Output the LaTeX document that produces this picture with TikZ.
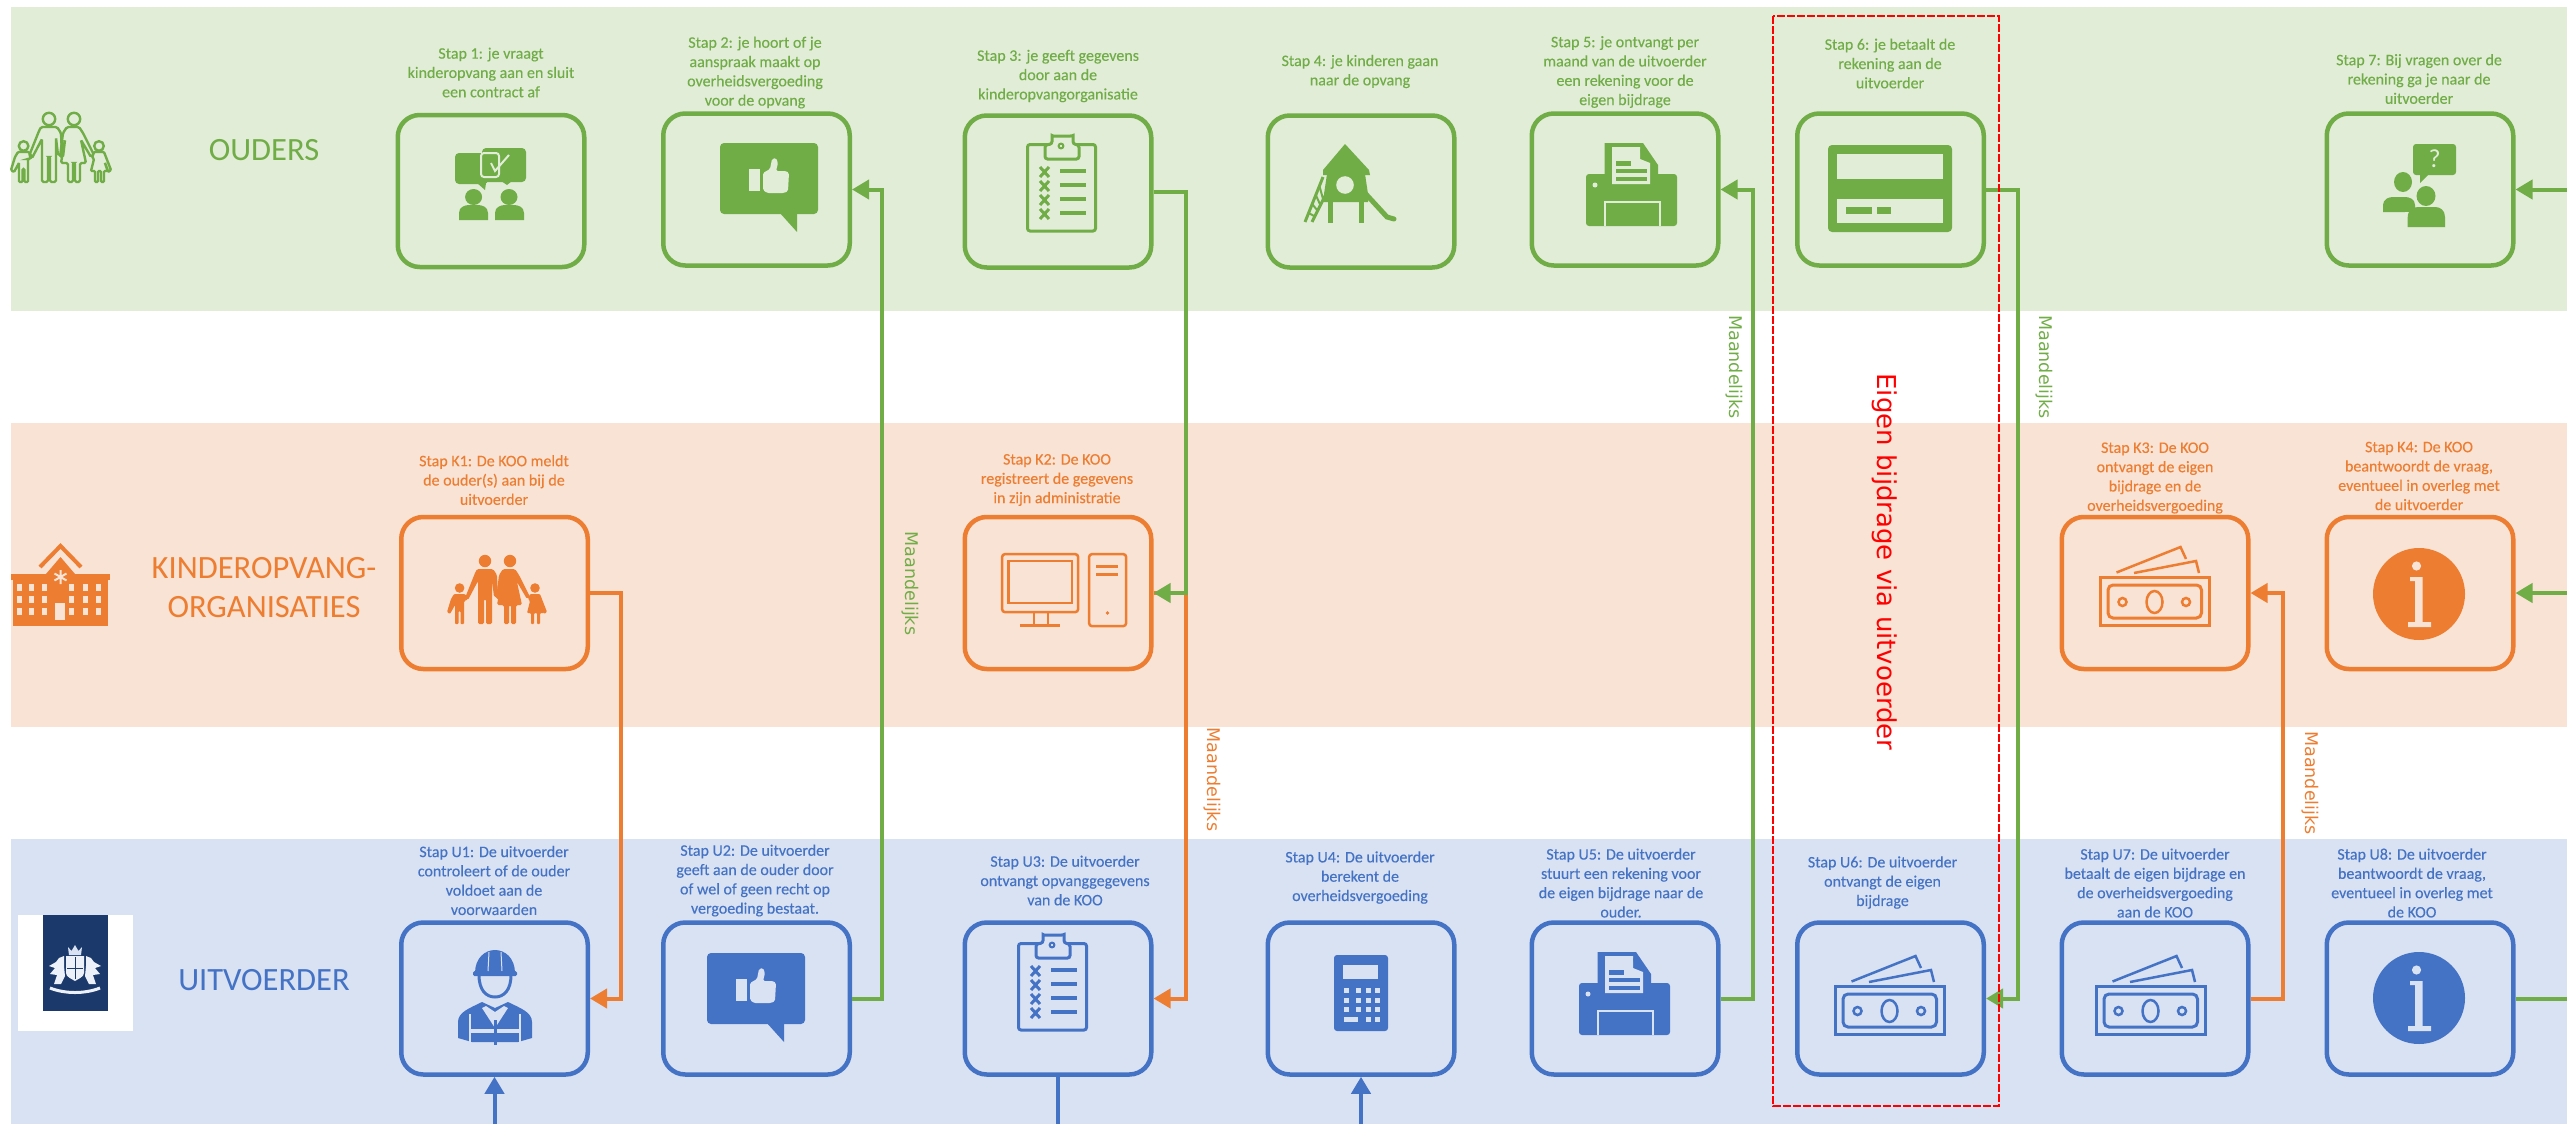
\documentclass[tikz,border=0pt]{standalone}
\usepackage{fontspec}
\usetikzlibrary{arrows.meta,calc}
\newfontfamily\capfont[FakeBold=0.25]{Carlito}
\newfontfamily\titlefont{Carlito}
\newfontfamily\sidefont{DejaVu Sans}
\definecolor{cg}{HTML}{70AD47}
\definecolor{cgl}{HTML}{E2EDD8}
\definecolor{co}{HTML}{ED7D31}
\definecolor{col}{HTML}{F9E3D5}
\definecolor{cb}{HTML}{4472C4}
\definecolor{cbl}{HTML}{D9E2F3}
\definecolor{cn}{HTML}{1B3A6B}
\tikzset{
  stepbox/.style={draw=#1,line width=4.5pt,minimum width=186.5pt,minimum height=152pt,rounded corners=22pt,inner sep=0pt,outer sep=2.25pt},
  stepcap/.style={text=#1,font=\capfont\fontsize{16}{19.3}\selectfont,align=center,inner sep=0pt},
  rowtitle/.style={text=#1,font=\titlefont\fontsize{32.5}{39}\selectfont,align=center,inner sep=0pt},
  monthly/.style={text=#1,font=\sidefont\fontsize{17.5}{20}\selectfont,rotate=-90,inner sep=0pt},
  conn/.style={draw=#1,line width=4pt,line join=miter},
  tip/.style={-{Triangle[length=17pt,width=19pt]}}
}
% ---- icons: origin = top-left corner of the icon, y down, px units
\newcommand\icFamily[3]{\begin{scope}[shift={(#1,#2)}]
  \path[#3] (38,6) circle (6.2);
  \path[#3] (63,6) circle (6.2);
  \path[#3] (12.6,33) circle (4.8);
  \path[#3] (88,33) circle (4.8);
  \path[#3,rounded corners=1.5pt] (30,14)--(46,14)--(50,20)--(51,42)--(47,42)--(45,25)--(45,69)--(39,69)--(39,44)--(37,44)--(37,69)--(31,69)--(31,26)--(21,45)--(18,43)--(28,18)--cycle;
  \path[#3,rounded corners=1.5pt] (56,14)--(68,14)--(72,20)--(83,42)--(80,44)--(70,27)--(75,50)--(69,50)--(69,69)--(64,69)--(64,50)--(62,50)--(62,69)--(57,69)--(57,50)--(50,50)--(54,27)--(52,44)--(49,44)--(52,20)--cycle;
  \path[#3,rounded corners=1pt] (7,39)--(18,39)--(21,44)--(18,46)--(17,46)--(17,69)--(13.5,69)--(13.5,56)--(11.5,56)--(11.5,69)--(8,69)--(8,50)--(3,59)--(0,57)--(4,44)--cycle;
  \path[#3,rounded corners=1pt] (83,39)--(93,39)--(100,57)--(97,59)--(94,50)--(97,58)--(93,58)--(93,69)--(90,69)--(90,58)--(87,58)--(87,69)--(84,69)--(84,58)--(80,58)--(83,46)--(81,44)--cycle;
\end{scope}}
\newcommand\icBuilding[4]{\begin{scope}[shift={(#1,#2)}]
  \draw[#3,line width=4pt] (29,24)--(49.5,3)--(70,24);
  \fill[#3] (35,31)--(49.5,14)--(64,31)--cycle;
  \fill[#3] (0,31) rectangle (99,37);
  \fill[#3] (2,37) rectangle (97,83);
  \foreach \xx in {8,20,33,60,74,87}{\foreach \yy in {41,53,65}{\fill[#4] (\xx-2.5,\yy) rectangle (\xx+3,\yy+7);}}
  \fill[#4] (44,60) rectangle (54,77);
  \draw[#4,line width=2pt] (49.5,27)--(49.5,41) (43.5,30.5)--(55.5,37.5) (43.5,37.5)--(55.5,30.5);
\end{scope}}
\newcommand\icBust[4]{\fill[#4] (#1,#3)--(#1,#3-7) .. controls (#1,#3-13) and (#1+6,#3-15) .. (#1+10,#3-15) -- (#2-10,#3-15) .. controls (#2-6,#3-15) and (#2,#3-13) .. (#2,#3-7) -- (#2,#3) -- cycle;}
\newcommand\icTalk[4]{\begin{scope}[shift={(#1,#2)}]
  \fill[#3,rounded corners=4pt] (0,6) rectangle (33,37);
  \fill[#3] (22,36)--(30,43)--(31,36)--cycle;
  \fill[#3,rounded corners=4pt] (27,1) rectangle (71,35);
  \fill[#3] (46,34)--(52,38)--(57,34)--cycle;
  \draw[#4,line width=2pt,rounded corners=3pt] (26,6) rectangle (44,30);
  \draw[#4,line width=2pt] (36,16)--(40,24)--(54,8);
  \fill[#3] (18.6,50) ellipse (8.5 and 8);
  \fill[#3] (54,50) ellipse (8.5 and 8);
  \icBust{4}{33}{73}{#3}
  \icBust{40}{69}{73}{#3}
\end{scope}}
\newcommand\icThumb[4]{\begin{scope}[shift={(#1,#2)}]
  \fill[#3,rounded corners=4pt] (0,0) rectangle (98,71);
  \fill[#3] (59,69)--(77,89)--(77,69)--cycle;
  \fill[#4] (29,26) rectangle (40,48);
  \fill[#4,rounded corners=1.5pt] (43,30)--(50,26)--(52,16)--(56,15)--(58,20)--(56,28)--(66,28)--(69,30)--(68,48)--(64,50)--(47,50)--(43,47)--cycle;
\end{scope}}
\newcommand\icClip[4]{\begin{scope}[shift={(#1,#2)}]
  \draw[#3,line width=3pt,rounded corners=2.5pt] (1.5,9.5) rectangle (69.5,96);
  \draw[#3,line width=3pt,fill=#4,rounded corners=2.5pt] (19,24) -- (19,10) -- (26,9) -- (26,3) .. controls (26,1) and (28,1) .. (30,1) -- (42,1) .. controls (45,1) and (47,1) .. (47,3) -- (47,9) -- (53,10) -- (53,24) -- cycle;
  \draw[#3,line width=2pt] (35,11) circle (2.4);
  \foreach \yy in {37,51,65,79}{
    \draw[#3,line width=3pt] (14,\yy-5)--(23,\yy+5) (23,\yy-5)--(14,\yy+5);
    \draw[#3,line width=3.5pt] (34,\yy-1)--(60,\yy-1);}
\end{scope}}
\newcommand\icPlay[4]{\begin{scope}[shift={(#1,#2)}]
  \fill[#3] (41,0)--(65,26)--(66,31)--(19,31)--(19,26)--cycle;
  \fill[#3] (23,30)--(61,30)--(64,50)--(64,58)--(20,58)--(20,50)--cycle;
  \fill[#4] (41,41) circle (8.8);
  \fill[#3] (24,57) rectangle (29,79);
  \fill[#3] (55,57) rectangle (60,79);
  \draw[#3,line width=3pt] (19,33)--(1,78) (22,50)--(8,78);
  \foreach \t in {0.2,0.4,0.6,0.8}{\draw[#3,line width=2pt] ($(19,33)!\t!(1,78)$)--($(22,50)!\t!(8,78)$);}
  \draw[#3,line width=5pt,line cap=round] (60,48)--(83,73)--(90,75);
\end{scope}}
\newcommand\icPrinter[4]{\begin{scope}[shift={(#1,#2)}]
  \fill[#3,rounded corners=3pt] (0,31) rectangle (91,83);
  \fill[#3] (18.5,0)--(57,0)--(72,22)--(72,42)--(18.5,42)--cycle;
  \fill[#4] (26,4)--(54,4)--(54,16)--(64,20)--(64,41)--(26,41)--cycle;
  \fill[#3] (54,6)--(62,18)--(56,16)--cycle;
  \fill[#3] (30,18) rectangle (45,23);
  \fill[#3] (30,26) rectangle (61,30);
  \fill[#3] (30,33.5) rectangle (61,38);
  \fill[#4] (9,42) circle (2.5);
  \draw[#4,line width=2pt] (18.5,83)--(18.5,59)--(74,59)--(74,83);
\end{scope}}
\newcommand\icCard[4]{\begin{scope}[shift={(#1,#2)}]
  \fill[#3,rounded corners=4pt] (0,0) rectangle (124,87);
  \fill[#4] (9,9) rectangle (115,34);
  \fill[#4] (9,54) rectangle (115,78);
  \fill[#3] (17.5,62) rectangle (44,69);
  \fill[#3] (49,62) rectangle (63,69);
\end{scope}}
\newcommand\icQuest[4]{\begin{scope}[shift={(#1,#2)}]
  \fill[#3,rounded corners=3pt] (30,0) rectangle (73,31);
  \fill[#3] (37,29)--(37,39)--(47,29)--cycle;
  \node[text=#4,font=\titlefont\fontsize{26}{26}\selectfont,inner sep=0pt] (qmark) at (51.5,15) {?};
  \fill[#3] (20,38) ellipse (9 and 10);
  \icBust{0}{32}{68}{#3}
  \fill[#4] (43,52) ellipse (12 and 12);
  \fill[#3] (43,52) ellipse (9.5 and 10);
  \fill[#4] (22,68) rectangle (64,84);
  \fill[#3] (24.7,83)--(24.7,73) .. controls (24.7,66) and (31,63) .. (35,63)--(52,63) .. controls (57,63) and (62,66) .. (62,73)--(62,83)--cycle;
\end{scope}}
\newcommand\icComputer[4]{\begin{scope}[shift={(#1,#2)}]
  \draw[#3,line width=2.5pt,rounded corners=2.5pt] (1.2,1.2) rectangle (77,59);
  \draw[#3,line width=2.5pt] (7.5,8) rectangle (71,50);
  \draw[#3,line width=2.5pt] (33,59)--(33,72) (47,59)--(47,72);
  \draw[#3,line width=3pt] (19,72.5)--(59,72.5);
  \draw[#3,line width=2.5pt,rounded corners=2.5pt] (88.2,1.2) rectangle (125,73);
  \fill[#3] (95,12) rectangle (117,15);
  \fill[#3] (95,19.5) rectangle (117,23);
  \fill[#3] (106.5,60) circle (1.8);
\end{scope}}
\newcommand\icMoney[4]{\begin{scope}[shift={(#1,#2)}]
  \draw[#3,line width=3pt] (1.5,31) rectangle (110,79.5);
  \draw[#3,line width=3pt,rounded corners=5pt] (9,39) rectangle (102.5,72);
  \draw[#3,line width=2.5pt] (55.5,56) ellipse (8 and 11);
  \draw[#3,line width=2.5pt] (23.5,56) circle (4);
  \draw[#3,line width=2.5pt] (87,56) circle (4);
  \draw[#3,line width=2.5pt] (17.5,26.5)--(81.5,1)--(87,13);
  \draw[#3,line width=2.5pt] (35,27)--(97,15)--(100,27);
\end{scope}}
\newcommand\icInfo[4]{\begin{scope}[shift={(#1,#2)}]
  \fill[#3] (0,0) circle (46);
  \fill[#4] (-2.5,-28) circle (4.6);
  \fill[#4] (-9,-17) -- (3.5,-17) -- (3.5,28) -- (12,28) -- (12,33) -- (-11,33) -- (-11,28) -- (-4,28) -- (-4,-13) -- (-9,-13) -- cycle;
\end{scope}}
\newcommand\icWorker[4]{\begin{scope}[shift={(#1,#2)}]
  \fill[#3] (17,23) .. controls (17,8) and (27,0) .. (37,0) .. controls (47,0) and (57,8) .. (57,23) -- cycle;
  \fill[#3,rounded corners=1.5pt] (15,21) rectangle (59,26);
  \draw[#4,line width=1pt] (31,2)--(30,21) (43,2)--(44,21);
  \draw[#3,line width=3pt] (21,25) .. controls (21,40) and (28,47) .. (37,47) .. controls (46,47) and (53,40) .. (53,25);
  \fill[#3] (0,88)--(0,72) .. controls (0,62) and (12,58) .. (24,52) -- (37,58) -- (50,52) .. controls (62,58) and (74,62) .. (74,72) -- (74,88) -- (60,92) -- (14,92) -- cycle;
  \fill[#4] (24,58)--(37,78)--(50,58)--(46,56)--(37,62)--(28,56)--cycle;
  \fill[#4] (27,60)--(37,76)--(47,60)--(37,66)--cycle;
  \fill[#4] (13,79) rectangle (61,82.5);
  \fill[#3] (35.5,70) rectangle (38.5,95);
  \draw[#4,line width=1.5pt] (12,64)--(12,92) (62,64)--(62,92);
\end{scope}}
\newcommand\icCalc[4]{\begin{scope}[shift={(#1,#2)}]
  \fill[#3,rounded corners=3pt] (0,0) rectangle (54,76);
  \fill[#4] (9,9.5) rectangle (43.5,24);
  \foreach \xx in {10,22,32,41}{\foreach \yy in {33,42.5,52}{\fill[#4] (\xx,\yy) rectangle (\xx+4.5,\yy+5);}}
  \fill[#4] (10,61.5) rectangle (24,66.5);
  \fill[#4] (32,61.5) rectangle (36.5,66.5);
  \fill[#4] (41,61.5) rectangle (45.5,66.5);
\end{scope}}
\begin{document}
\begin{tikzpicture}[x=1pt,y=-1pt]
\useasboundingbox (0,0) rectangle (2567,1124);
\coordinate (frameE) at (2567,0);
\coordinate (frameS) at (0,1124);
% bands
\fill[cgl] (11,7) rectangle (2567,311);
\fill[col] (11,423) rectangle (2567,727);
\fill[cbl] (11,839) rectangle (2567,1124);
% boxes
\node[stepbox=cg] (b1) at (491,191) {};
\node[stepbox=cg] (b2) at (756.5,189.5) {};
\node[stepbox=cg] (b3) at (1058,191.5) {};
\node[stepbox=cg] (b4) at (1361,191.5) {};
\node[stepbox=cg] (b5) at (1625,189.5) {};
\node[stepbox=cg] (b6) at (1890.5,189.5) {};
\node[stepbox=cg] (b7) at (2420,189.5) {};
\node[stepbox=co] (k1) at (494.5,593) {};
\node[stepbox=co] (k2) at (1058,593) {};
\node[stepbox=co] (k3) at (2155,593) {};
\node[stepbox=co] (k4) at (2420,593) {};
\node[stepbox=cb] (u1) at (494.5,998.5) {};
\node[stepbox=cb] (u2) at (756.5,998.5) {};
\node[stepbox=cb] (u3) at (1058,998.5) {};
\node[stepbox=cb] (u4) at (1361,998.5) {};
\node[stepbox=cb] (u5) at (1625,998.5) {};
\node[stepbox=cb] (u6) at (1890.5,998.5) {};
\node[stepbox=cb] (u7) at (2155,998.5) {};
\node[stepbox=cb] (u8) at (2420,998.5) {};
% captions
\node[stepcap=cg] (tb1) at (491,72.5) {Stap 1: je vraagt\\kinderopvang aan en sluit\\een contract af};
\node[stepcap=cg] (tb2) at (755,72.5) {Stap 2: je hoort of je\\aanspraak maakt op\\overheidsvergoeding\\voor de opvang};
\node[stepcap=cg] (tb3) at (1058,76) {Stap 3: je geeft gegevens\\door aan de\\kinderopvangorganisatie};
\node[stepcap=cg] (tb4) at (1360,71.5) {Stap 4: je kinderen gaan\\naar de opvang};
\node[stepcap=cg] (tb5) at (1625,72) {Stap 5: je ontvangt per\\maand van de uitvoerder\\een rekening voor de\\eigen bijdrage};
\node[stepcap=cg] (tb6) at (1890,63.5) {Stap 6: je betaalt de\\rekening aan de\\uitvoerder};
\node[stepcap=cg] (tb7) at (2419,79) {Stap 7: Bij vragen over de\\rekening ga je naar de\\uitvoerder};
\node[stepcap=co] (tk1) at (494,480) {Stap K1: De KOO meldt\\de ouder(s) aan bij de\\uitvoerder};
\node[stepcap=co] (tk2) at (1057,480) {Stap K2: De KOO\\registreert de gegevens\\in zijn administratie};
\node[stepcap=co] (tk3) at (2155,478) {Stap K3: De KOO\\ontvangt de eigen\\bijdrage en de\\overheidsvergoeding};
\node[stepcap=co] (tk4) at (2419,476) {Stap K4: De KOO\\beantwoordt de vraag,\\eventueel in overleg met\\de uitvoerder};
\node[stepcap=cb] (tu1) at (494,880.5) {Stap U1: De uitvoerder\\controleert of de ouder\\voldoet aan de\\voorwaarden};
\node[stepcap=cb] (tu2) at (755,880.5) {Stap U2: De uitvoerder\\geeft aan de ouder door\\of wel of geen recht op\\vergoeding bestaat.};
\node[stepcap=cb] (tu3) at (1065,880.5) {Stap U3: De uitvoerder\\ontvangt opvanggegevens\\van de KOO};
\node[stepcap=cb] (tu4) at (1360,877.5) {Stap U4: De uitvoerder\\berekent de\\overheidsvergoeding};
\node[stepcap=cb] (tu5) at (1621,883) {Stap U5: De uitvoerder\\stuurt een rekening voor\\de eigen bijdrage naar de\\ouder.};
\node[stepcap=cb] (tu6) at (1882.5,882.5) {Stap U6: De uitvoerder\\ontvangt de eigen\\bijdrage};
\node[stepcap=cb] (tu7) at (2155,883) {Stap U7: De uitvoerder\\betaalt de eigen bijdrage en\\de overheidsvergoeding\\aan de KOO};
\node[stepcap=cb] (tu8) at (2412,883) {Stap U8: De uitvoerder\\beantwoordt de vraag,\\eventueel in overleg met\\de KOO};
% row titles
\node[rowtitle=cg] (rowO) at (264,150) {OUDERS};
\node[rowtitle=co] (rowK) at (264,587.5) {KINDEROPVANG-\\ORGANISATIES};
\node[rowtitle=cb] (rowU) at (264,980) {UITVOERDER};
% left-hand emblems
\icFamily{11}{113}{draw=cg,line width=2.4pt}
\icBuilding{11}{543}{co}{col}
\fill[white] (18,915) rectangle (133,1031);
\fill[cn] (43,915) rectangle (108,1011);
\begin{scope}[shift={(75,970)}]
  \fill[cbl] (-6,-15)--(-7,-23)--(-3.5,-19)--(0,-25)--(3.5,-19)--(7,-23)--(6,-15)--cycle;
  \fill[cbl!50!white] (-9,-14) -- (9,-14) -- (9,3) .. controls (9,7) and (3,9) .. (0,11) .. controls (-3,9) and (-9,7) .. (-9,3) -- cycle;
  \draw[cn,line width=1pt] (0,-13)--(0,9) (-8,-2)--(8,-2);
  \fill[cbl!50!white] (-11,-14)--(-16,-12)--(-19,-8)--(-26,-4)--(-20,-2)--(-25,4)--(-18,5)--(-21,14)--(-14,14)--(-10,6)--(-11,-4)--cycle;
  \fill[cbl!50!white] (11,-14)--(16,-12)--(19,-8)--(26,-4)--(20,-2)--(25,4)--(18,5)--(21,14)--(14,14)--(10,6)--(11,-4)--cycle;
  \draw[cbl!50!white,line width=3pt] (-25,18) .. controls (-10,24) and (10,24) .. (25,18);
\end{scope}
% icons
\icTalk{455}{147}{cg}{cgl}
\icThumb{720}{143}{cg}{cgl}
\icClip{1026}{135}{cg}{cgl}
\icPlay{1304}{144}{cg}{cgl}
\icPrinter{1586}{143}{cg}{cgl}
\icCard{1828}{145}{cg}{cgl}
\icQuest{2383}{144}{cg}{cgl}
\icFamily{447}{555}{fill=co}
\icComputer{1001}{553}{co}{col}
\icMoney{2099}{546}{co}{col}
\icInfo{2419}{594}{co}{col}
\icWorker{458}{950}{cb}{cbl}
\icThumb{707}{953}{cb}{cbl}
\icClip{1017}{934}{cb}{cbl}
\icCalc{1334}{955}{cb}{cbl}
\icPrinter{1579}{952}{cb}{cbl}
\icMoney{1834}{955}{cb}{cbl}
\icMoney{2095}{955}{cb}{cbl}
\icInfo{2419}{998}{cb}{cbl}
% connectors
\draw[conn=co,tip] (k1.east) -- ++(31,0) |- (u1.east);
\draw[conn=cg,tip] (u2.east) -- ++(30,0) |- (b2.east);
\draw[conn=co,tip] (k2.east) -- ++(32,0) |- (u3.east);
\draw[conn=cg,tip] (b3.east) -- ++(32,0) |- (k2.east);
\draw[conn=cg,tip] (u5.east) -- ++(32,0) |- (b5.east);
\draw[conn=cg,tip] (b6.east) -- ++(32,0) |- (u6.east);
\draw[conn=co,tip] (u7.east) -- ++(32,0) |- (k3.east);
\draw[conn=cg] (u8.east) -- (u8.east -| frameE);
\draw[conn=cg,tip] (k4.east -| frameE) -- (k4.east);
\draw[conn=cg,tip] (b7.east -| frameE) -- (b7.east);
\draw[conn=cb,tip] (u1.south |- frameS) -- (u1.south);
\draw[conn=cb] (u3.south) -- (u3.south |- frameS);
\draw[conn=cb,tip] (u4.south |- frameS) -- (u4.south);
% monthly labels
\node[monthly=cg] (m1) at (910,583.5) {Maandelijks};
\node[monthly=co] (m2) at (1212,779.5) {Maandelijks};
\node[monthly=cg] (m3) at (1734,367) {Maandelijks};
\node[monthly=cg] (m4) at (2044,367) {Maandelijks};
\node[monthly=co] (m5) at (2310,783) {Maandelijks};
% red frame
\draw[red,line width=1.5pt,dash pattern=on 8pt off 2pt] (1773,16) rectangle (1999,1106);
\node[text=red,font=\sidefont\fontsize{26}{30}\selectfont,rotate=-90,inner sep=0pt] (eigen) at (1885,562) {Eigen bijdrage via uitvoerder};
\end{tikzpicture}
\end{document}
